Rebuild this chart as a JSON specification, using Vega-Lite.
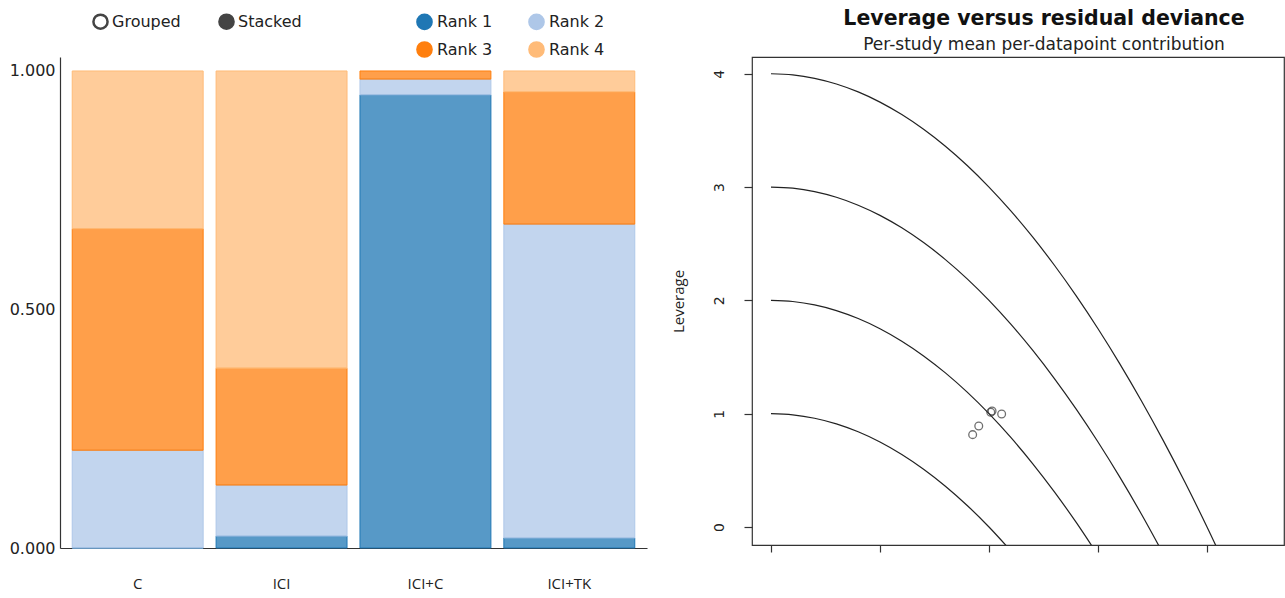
{
  "$schema": "https://vega.github.io/schema/vega-lite/v6.json",
  "background": "white",
  "padding": {"left": 9, "top": 7, "right": 0, "bottom": 0},
  "spacing": 23,
  "config": {
    "view": {"stroke": null},
    "font": "Liberation Sans",
    "axis": {"grid": false}
  },
  "hconcat": [
    {
      "width": 587,
      "height": 491,
      "layer": [
        {
          "data": {
            "values": [
              {"treatment": "C", "rank": "Rank 1", "prob": 0.0},
              {"treatment": "C", "rank": "Rank 2", "prob": 0.205},
              {"treatment": "C", "rank": "Rank 3", "prob": 0.464},
              {"treatment": "C", "rank": "Rank 4", "prob": 0.331},
              {"treatment": "ICI", "rank": "Rank 1", "prob": 0.025},
              {"treatment": "ICI", "rank": "Rank 2", "prob": 0.107},
              {"treatment": "ICI", "rank": "Rank 3", "prob": 0.245},
              {"treatment": "ICI", "rank": "Rank 4", "prob": 0.623},
              {"treatment": "ICI+C", "rank": "Rank 1", "prob": 0.95},
              {"treatment": "ICI+C", "rank": "Rank 2", "prob": 0.033},
              {"treatment": "ICI+C", "rank": "Rank 3", "prob": 0.017},
              {"treatment": "ICI+TK", "rank": "Rank 1", "prob": 0.021},
              {"treatment": "ICI+TK", "rank": "Rank 2", "prob": 0.658},
              {"treatment": "ICI+TK", "rank": "Rank 3", "prob": 0.277},
              {"treatment": "ICI+TK", "rank": "Rank 4", "prob": 0.044}
            ]
          },
          "mark": {"type": "bar", "fillOpacity": 0.75, "strokeWidth": 1},
          "encoding": {
            "x": {
              "field": "treatment",
              "type": "nominal",
              "sort": ["C", "ICI", "ICI+C", "ICI+TK"],
              "scale": {"paddingInner": 0.09, "paddingOuter": 0.085},
              "axis": {
                "title": null,
                "ticks": false,
                "domain": true,
                "domainColor": "#333",
                "domainWidth": 1.2,
                "labelAngle": 0,
                "labelFont": "Open Sans",
                "labelFontSize": 15,
                "labelColor": "#222",
                "labelPadding": 28
              }
            },
            "y": {
              "field": "prob",
              "type": "quantitative",
              "stack": "zero",
              "scale": {"domain": [0, 1.0293], "nice": false},
              "axis": {
                "title": null,
                "values": [0, 0.5, 1],
                "format": ".3f",
                "ticks": false,
                "domain": true,
                "domainColor": "#333",
                "domainWidth": 1.2,
                "labelFont": "DejaVu Sans",
                "labelFontSize": 16,
                "labelColor": "#222",
                "labelPadding": 5
              }
            },
            "order": {"field": "rank", "type": "ordinal", "sort": "ascending"},
            "color": {
              "field": "rank",
              "type": "nominal",
              "scale": {
                "domain": ["Rank 1", "Rank 2", "Rank 3", "Rank 4"],
                "range": ["#1f77b4", "#aec7e8", "#ff7f0e", "#ffbb78"]
              },
              "legend": {
                "orient": "none",
                "legendX": 351,
                "legendY": -49,
                "direction": "horizontal",
                "columns": 2,
                "title": null,
                "symbolType": "circle",
                "symbolSize": 230,
                "symbolOpacity": 1,
                "labelFont": "DejaVu Sans",
                "labelFontSize": 16,
                "labelColor": "#222",
                "labelOffset": 4,
                "columnPadding": 32,
                "rowPadding": 5,
                "padding": 5
              }
            },
            "stroke": {
              "field": "rank",
              "type": "nominal",
              "scale": {
                "domain": ["Rank 1", "Rank 2", "Rank 3", "Rank 4"],
                "range": ["#1f77b4", "#aec7e8", "#ff7f0e", "#ffbb78"]
              },
              "legend": null
            }
          }
        },
        {
          "data": {"values": [{"mode": "Grouped"}, {"mode": "Stacked"}]},
          "transform": [{"filter": "false"}],
          "mark": {"type": "point", "filled": true, "stroke": "#444", "strokeWidth": 2.5},
          "encoding": {
            "fill": {
              "field": "mode",
              "type": "nominal",
              "scale": {"domain": ["Grouped", "Stacked"], "range": ["#ffffff", "#444444"]},
              "legend": {
                "orient": "none",
                "legendX": 27,
                "legendY": -49,
                "direction": "horizontal",
                "columns": 2,
                "title": null,
                "symbolType": "circle",
                "symbolSize": 200,
                "symbolOpacity": 1,
                "symbolStrokeColor": "#444",
                "symbolStrokeWidth": 2.5,
                "labelFont": "DejaVu Sans",
                "labelFontSize": 16,
                "labelColor": "#222",
                "labelOffset": 3,
                "columnPadding": 33,
                "padding": 5
              }
            }
          }
        }
      ]
    },
    {
      "width": 532,
      "height": 488,
      "view": {"stroke": "#333", "strokeWidth": 1.2},
      "title": {
        "text": "Leverage versus residual deviance",
        "subtitle": "Per-study mean per-datapoint contribution",
        "font": "DejaVu Sans",
        "fontSize": 20.5,
        "fontWeight": "bold",
        "color": "#111",
        "subtitleFont": "DejaVu Sans",
        "subtitleFontSize": 17,
        "subtitleColor": "#222",
        "subtitlePadding": 8,
        "offset": 4,
        "dx": 26,
        "anchor": "middle"
      },
      "encoding": {
        "x": {
          "field": "x",
          "type": "quantitative",
          "scale": {"domain": [-0.087, 2.353], "nice": false, "zero": false},
          "axis": {
            "values": [0, 0.5, 1, 1.5, 2],
            "labels": false,
            "domain": false,
            "ticks": true,
            "tickSize": 7,
            "tickColor": "#333",
            "tickWidth": 1.2,
            "title": null
          }
        },
        "y": {
          "field": "y",
          "type": "quantitative",
          "scale": {"domain": [-0.159, 4.148], "nice": false, "zero": false},
          "axis": {
            "values": [0, 1, 2, 3, 4],
            "domain": false,
            "tickSize": 8,
            "tickColor": "#333",
            "tickWidth": 1.2,
            "labelAngle": 270,
            "labelAlign": "center",
            "labelBaseline": "bottom",
            "labelPadding": 18,
            "labelFont": "DejaVu Sans",
            "labelFontSize": 14,
            "labelColor": "#222",
            "title": "Leverage",
            "titleFont": "Open Sans",
            "titleFontSize": 15,
            "titleFontWeight": "normal",
            "titleColor": "#222",
            "titlePadding": 26
          }
        }
      },
      "layer": [
        {
          "data": {
            "values": [
              {"c": 1, "x": 0, "y": 1}, {"c": 1, "x": 0.1, "y": 0.99}, {"c": 1, "x": 0.2, "y": 0.96}, {"c": 1, "x": 0.3, "y": 0.91},
              {"c": 1, "x": 0.4, "y": 0.84}, {"c": 1, "x": 0.5, "y": 0.75}, {"c": 1, "x": 0.6, "y": 0.64}, {"c": 1, "x": 0.7, "y": 0.51},
              {"c": 1, "x": 0.8, "y": 0.36}, {"c": 1, "x": 0.9, "y": 0.19}, {"c": 1, "x": 1.0, "y": 0}, {"c": 1, "x": 1.1, "y": -0.21},
              {"c": 2, "x": 0, "y": 2}, {"c": 2, "x": 0.1, "y": 1.99}, {"c": 2, "x": 0.2, "y": 1.96}, {"c": 2, "x": 0.3, "y": 1.91},
              {"c": 2, "x": 0.4, "y": 1.84}, {"c": 2, "x": 0.5, "y": 1.75}, {"c": 2, "x": 0.6, "y": 1.64}, {"c": 2, "x": 0.7, "y": 1.51},
              {"c": 2, "x": 0.8, "y": 1.36}, {"c": 2, "x": 0.9, "y": 1.19}, {"c": 2, "x": 1.0, "y": 1}, {"c": 2, "x": 1.1, "y": 0.79},
              {"c": 2, "x": 1.2, "y": 0.56}, {"c": 2, "x": 1.3, "y": 0.31}, {"c": 2, "x": 1.4, "y": 0.04}, {"c": 2, "x": 1.5, "y": -0.25},
              {"c": 3, "x": 0, "y": 3}, {"c": 3, "x": 0.1, "y": 2.99}, {"c": 3, "x": 0.2, "y": 2.96}, {"c": 3, "x": 0.3, "y": 2.91},
              {"c": 3, "x": 0.4, "y": 2.84}, {"c": 3, "x": 0.5, "y": 2.75}, {"c": 3, "x": 0.6, "y": 2.64}, {"c": 3, "x": 0.7, "y": 2.51},
              {"c": 3, "x": 0.8, "y": 2.36}, {"c": 3, "x": 0.9, "y": 2.19}, {"c": 3, "x": 1.0, "y": 2}, {"c": 3, "x": 1.1, "y": 1.79},
              {"c": 3, "x": 1.2, "y": 1.56}, {"c": 3, "x": 1.3, "y": 1.31}, {"c": 3, "x": 1.4, "y": 1.04}, {"c": 3, "x": 1.5, "y": 0.75},
              {"c": 3, "x": 1.6, "y": 0.44}, {"c": 3, "x": 1.7, "y": 0.11}, {"c": 3, "x": 1.8, "y": -0.24},
              {"c": 4, "x": 0, "y": 4}, {"c": 4, "x": 0.1, "y": 3.99}, {"c": 4, "x": 0.2, "y": 3.96}, {"c": 4, "x": 0.3, "y": 3.91},
              {"c": 4, "x": 0.4, "y": 3.84}, {"c": 4, "x": 0.5, "y": 3.75}, {"c": 4, "x": 0.6, "y": 3.64}, {"c": 4, "x": 0.7, "y": 3.51},
              {"c": 4, "x": 0.8, "y": 3.36}, {"c": 4, "x": 0.9, "y": 3.19}, {"c": 4, "x": 1.0, "y": 3}, {"c": 4, "x": 1.1, "y": 2.79},
              {"c": 4, "x": 1.2, "y": 2.56}, {"c": 4, "x": 1.3, "y": 2.31}, {"c": 4, "x": 1.4, "y": 2.04}, {"c": 4, "x": 1.5, "y": 1.75},
              {"c": 4, "x": 1.6, "y": 1.44}, {"c": 4, "x": 1.7, "y": 1.11}, {"c": 4, "x": 1.8, "y": 0.76}, {"c": 4, "x": 1.9, "y": 0.39},
              {"c": 4, "x": 2.0, "y": 0}, {"c": 4, "x": 2.1, "y": -0.41}
            ]
          },
          "mark": {"type": "line", "clip": true, "color": "#222", "strokeWidth": 1.2, "interpolate": "monotone"},
          "encoding": {"detail": {"field": "c", "type": "nominal"}}
        },
        {
          "data": {
            "values": [
              {"x": 1.008, "y": 1.012},
              {"x": 1.014, "y": 1.024},
              {"x": 1.058, "y": 0.997},
              {"x": 0.953, "y": 0.891},
              {"x": 0.925, "y": 0.815}
            ]
          },
          "mark": {"type": "point", "shape": "circle", "filled": false, "color": "#333", "size": 60, "strokeWidth": 1.3},
          "encoding": {}
        }
      ]
    }
  ]
}
